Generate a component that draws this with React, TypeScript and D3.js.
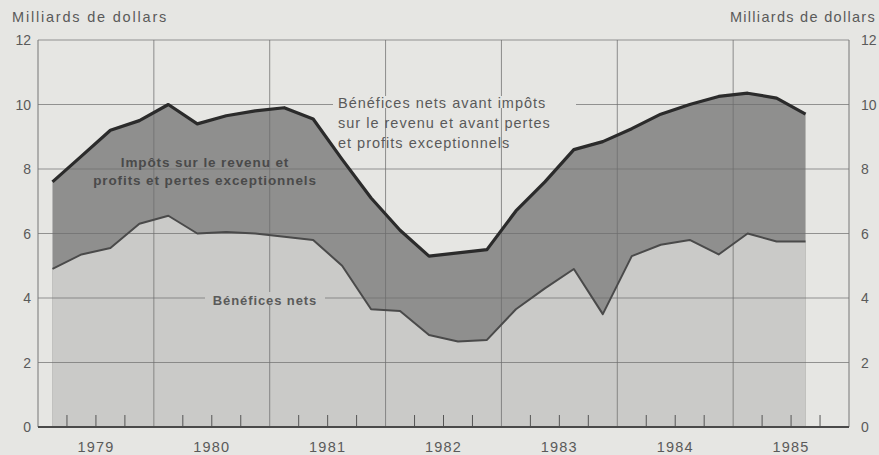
import React from "react";
import * as d3 from "d3";

const years = [1979, 1980, 1981, 1982, 1983, 1984, 1985];
const quarterLabels = [
  "1979T1","1979T2","1979T3","1979T4",
  "1980T1","1980T2","1980T3","1980T4",
  "1981T1","1981T2","1981T3","1981T4",
  "1982T1","1982T2","1982T3","1982T4",
  "1983T1","1983T2","1983T3","1983T4",
  "1984T1","1984T2","1984T3","1984T4",
  "1985T1","1985T2","1985T3",
];
// Bénéfices nets avant impôts sur le revenu et avant pertes et profits exceptionnels
const totalProfits = [
  7.6, 8.4, 9.2, 9.5,
  10.0, 9.4, 9.65, 9.8,
  9.9, 9.55, 8.3, 7.1,
  6.1, 5.3, 5.4, 5.5,
  6.7, 7.6, 8.6, 8.85,
  9.25, 9.7, 10.0, 10.25,
  10.35, 10.2, 9.7,
];
// Bénéfices nets
const netProfits = [
  4.9, 5.35, 5.55, 6.3,
  6.55, 6.0, 6.05, 6.0,
  5.9, 5.8, 5.0, 3.65,
  3.6, 2.85, 2.65, 2.7,
  3.65, 4.3, 4.9, 3.5,
  5.3, 5.65, 5.8, 5.35,
  6.0, 5.75, 5.75,
];
const yTicks = [0, 2, 4, 6, 8, 10, 12];
const unitLabel = "Milliards de dollars";

const W = 879, H = 455;
const L = 38, R = 849, T = 40, B = 427;

export default function App() {
  const x = d3.scaleLinear().domain([1979, 1986]).range([L, R]);
  const y = d3.scaleLinear().domain([0, 12]).range([B, T]);
  const pts = quarterLabels.map((q, i) => {
    const yr = +q.slice(0, 4);
    const qn = +q.slice(5);
    return { t: yr + (qn - 0.5) / 4, total: totalProfits[i], net: netProfits[i] };
  });
  const areaTotal = d3.area<any>().x(d => x(d.t)).y0(y(0)).y1(d => y(d.total));
  const areaNet = d3.area<any>().x(d => x(d.t)).y0(y(0)).y1(d => y(d.net));
  const lineTotal = d3.line<any>().x(d => x(d.t)).y(d => y(d.total));
  const lineNet = d3.line<any>().x(d => x(d.t)).y(d => y(d.net));

  const bg = "#e6e6e3";
  const txt = "#5a5a5a";
  const font = "'Liberation Sans', Arial, sans-serif";
  const minorTicks: number[] = [];
  years.forEach(yr => [0.25, 0.5, 0.75].forEach(f => minorTicks.push(yr + f)));

  return (
    <svg width={W} height={H} style={{ position: "absolute", left: 0, top: 0 }} fontFamily={font}>
      <rect x={0} y={0} width={W} height={H} fill={bg} />
      <path d={areaTotal(pts) || ""} fill="#8f8f8e" />
      <path d={areaNet(pts) || ""} fill="#cacac8" />
      {/* horizontal gridlines */}
      {yTicks.filter(v => v > 0).map(v => (
        <line key={"h" + v} x1={L} x2={R} y1={y(v)} y2={y(v)} stroke="#6e6e6e" strokeWidth={1} opacity={0.7} />
      ))}
      {/* vertical year lines */}
      {years.slice(1).map(yr => (
        <line key={"v" + yr} x1={x(yr)} x2={x(yr)} y1={T} y2={B} stroke="#6e6e6e" strokeWidth={1} opacity={0.75} />
      ))}
      {/* frame */}
      <line x1={L} x2={L} y1={T} y2={B} stroke="#777" strokeWidth={1} />
      <line x1={R} x2={R} y1={T} y2={B} stroke="#777" strokeWidth={1} />
      {/* minor ticks */}
      {minorTicks.map(t => (
        <line key={"m" + t} x1={x(t)} x2={x(t)} y1={B - 12} y2={B} stroke="#555" strokeWidth={1} />
      ))}
      <line x1={L} x2={R} y1={B} y2={B} stroke="#4a4a4a" strokeWidth={2} />
      {/* series lines */}
      <path d={lineNet(pts) || ""} fill="none" stroke="#4a4a4a" strokeWidth={2} strokeLinejoin="round" />
      <path d={lineTotal(pts) || ""} fill="none" stroke="#2b2b2b" strokeWidth={3.2} strokeLinejoin="round" />

      {/* axis labels */}
      {yTicks.map(v => (
        <text key={"l" + v} x={31} y={y(v) + 5} textAnchor="end" fontSize={14} fill={txt}>{v}</text>
      ))}
      {yTicks.map(v => (
        <text key={"r" + v} x={861} y={y(v) + 5} textAnchor="start" fontSize={14} fill={txt}>{v}</text>
      ))}
      {years.map(yr => (
        <text key={"y" + yr} x={x(yr + 0.5)} y={452} textAnchor="middle" fontSize={14.5} letterSpacing={1.2} fill={txt}>{yr}</text>
      ))}
      <text x={12} y={22} fontSize={14.5} letterSpacing={1.8} fill={txt}>{unitLabel}</text>
      <text x={876} y={22} fontSize={14.5} letterSpacing={1.3} textAnchor="end" fill={txt}>{unitLabel}</text>

      {/* annotations */}
      <rect x={333} y={96} width={243} height={12} fill={bg} />
      <g fontSize={14.5} letterSpacing={1} fill={txt}>
        <text x={338} y={108}>Bénéfices nets avant impôts</text>
        <text x={338} y={128}>sur le revenu et avant pertes</text>
        <text x={338} y={148}>et profits exceptionnels</text>
      </g>
      <g fontSize={13.5} fontWeight="bold" letterSpacing={0.9} fill="#4a4a4a" textAnchor="middle">
        <text x={205} y={167}>Impôts sur le revenu et</text>
        <text x={205} y={185}>profits et pertes exceptionnels</text>
      </g>
      <rect x={205} y={292} width={120} height={12} fill="#cacac8" />
      <text x={265} y={305} fontSize={13} fontWeight="bold" letterSpacing={0.9} textAnchor="middle" fill="#5a5a5a">Bénéfices nets</text>
    </svg>
  );
}
